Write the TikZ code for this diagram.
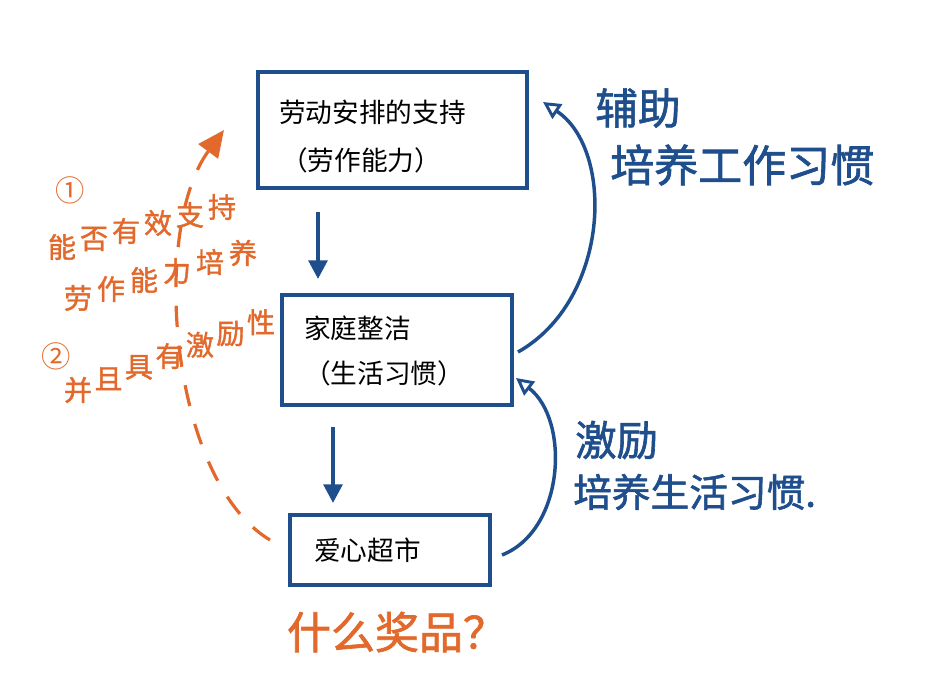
\documentclass[tikz,border=0pt]{standalone}
\usepackage{fontspec}
\setmainfont{Noto Sans CJK SC}
\newfontfamily\handfont{Noto Sans CJK SC}[FakeBold=1.5]
\usetikzlibrary{arrows.meta,calc}
\definecolor{pen}{HTML}{1F4E8C}
\definecolor{ora}{HTML}{E2692B}
\tikzset{
  box/.style={draw=pen, line width=3pt, rectangle, inner sep=0pt},
  boxtxt/.style={anchor=west, font=\fontsize{20}{24}\selectfont, text=black, inner sep=0pt},
  flow/.style={draw=pen, line width=3pt, -{Triangle[length=14pt,width=14pt]}},
  loopar/.style={draw=pen, line width=2.6pt, -{Triangle[open,length=13pt,width=13pt,line width=2.2pt]}},
  dasharr/.style={draw=ora, line width=2.4pt, dash pattern=on 16pt off 14pt, -{Triangle[length=20pt,width=18pt]}},
  bluehand/.style={text=pen, inner sep=0pt, font=\handfont\fontsize{33}{36}\selectfont},
  orahand/.style={text=ora, inner sep=0pt, font=\handfont\fontsize{21}{24}\selectfont},
  oranum/.style={text=ora, inner sep=0pt, font=\fontsize{22}{24}\selectfont}
}
\begin{document}
\begin{tikzpicture}[x=0.75pt,y=-0.75pt]
\useasboundingbox (0,0) rectangle (940,700);
\fill[white] (0,0) rectangle (940,700);

% boxes
\node[box, minimum width=201.75pt, minimum height=87pt] (b1) at (392.5,130) {};
\node[box, minimum width=172.5pt, minimum height=82.5pt] (b2) at (397,350) {};
\node[box, minimum width=150pt, minimum height=52.5pt] (b3) at (390,550) {};

% box texts
\node[boxtxt] (t1a) at (279,112) {劳动安排的支持};
\node[boxtxt] (t1b) at (281,160) {（劳作能力）};
\node[boxtxt] (t2a) at (304,328) {家庭整洁};
\node[boxtxt] (t2b) at (304,373) {（生活习惯）};
\node[boxtxt] (t3a) at (314,550) {爱心超市};

% vertical arrows
\draw[flow] ($(b1.south)+(-74.5,22)$) -- ($(b2.north)+(-79,-14)$);
\draw[flow] ($(b2.south)+(-64,20)$) -- ($(b3.north)+(-57,-10)$);

% loop arrows
\draw[loopar] ($(b2.east)+(4,2)$) .. controls (610,300) and (615,150) .. ($(b1.east)+(14,-28)$);
\draw[loopar] ($(b3.east)+(10,5)$) .. controls (565,530) and (570,420) .. ($(b2.east)+(2,28)$);

% dashed orange
\draw[dasharr] ($(b3.west)+(-18,-10)$) .. controls (170,480) and (150,230) .. ($(b1.west)+(-32,0)$);

% blue handwriting
\node[bluehand, anchor=west, font=\handfont\fontsize{32}{36}\selectfont] (h1) at (595,108) {辅助};
\node[bluehand, anchor=west] (h2) at (610,165) {培养工作习惯};
\node[bluehand, anchor=west, font=\handfont\fontsize{31}{36}\selectfont] (h3) at (575,440) {激励};
\node[bluehand, anchor=west, font=\handfont\fontsize{29}{32}\selectfont] (h4) at (573,492) {培养生活习惯.};

% orange handwriting (written on a slant, one stroke group per character)
\node[oranum] (o1) at (70,190) {①};
\foreach \c [count=\i] in {能,否,有,效,支,持}
  \node[orahand] (oa\i) at ({62+32*(\i-1)},{247-8*(\i-1)}) {\c};
\foreach \c [count=\i] in {劳,作,能,力,培,养}
  \node[orahand] (ob\i) at ({78+33*(\i-1)},{298-9*(\i-1)}) {\c};
\node[oranum] (o4) at (56,356) {②};
\foreach \c [count=\i] in {并,且,具,有,激,励,性}
  \node[orahand] (oc\i) at ({78+30.5*(\i-1)},{390-11.3*(\i-1)}) {\c};
\node[orahand, font=\handfont\fontsize{33}{36}\selectfont] (o6) at (397,632) {什么奖品？};
\end{tikzpicture}
\end{document}
